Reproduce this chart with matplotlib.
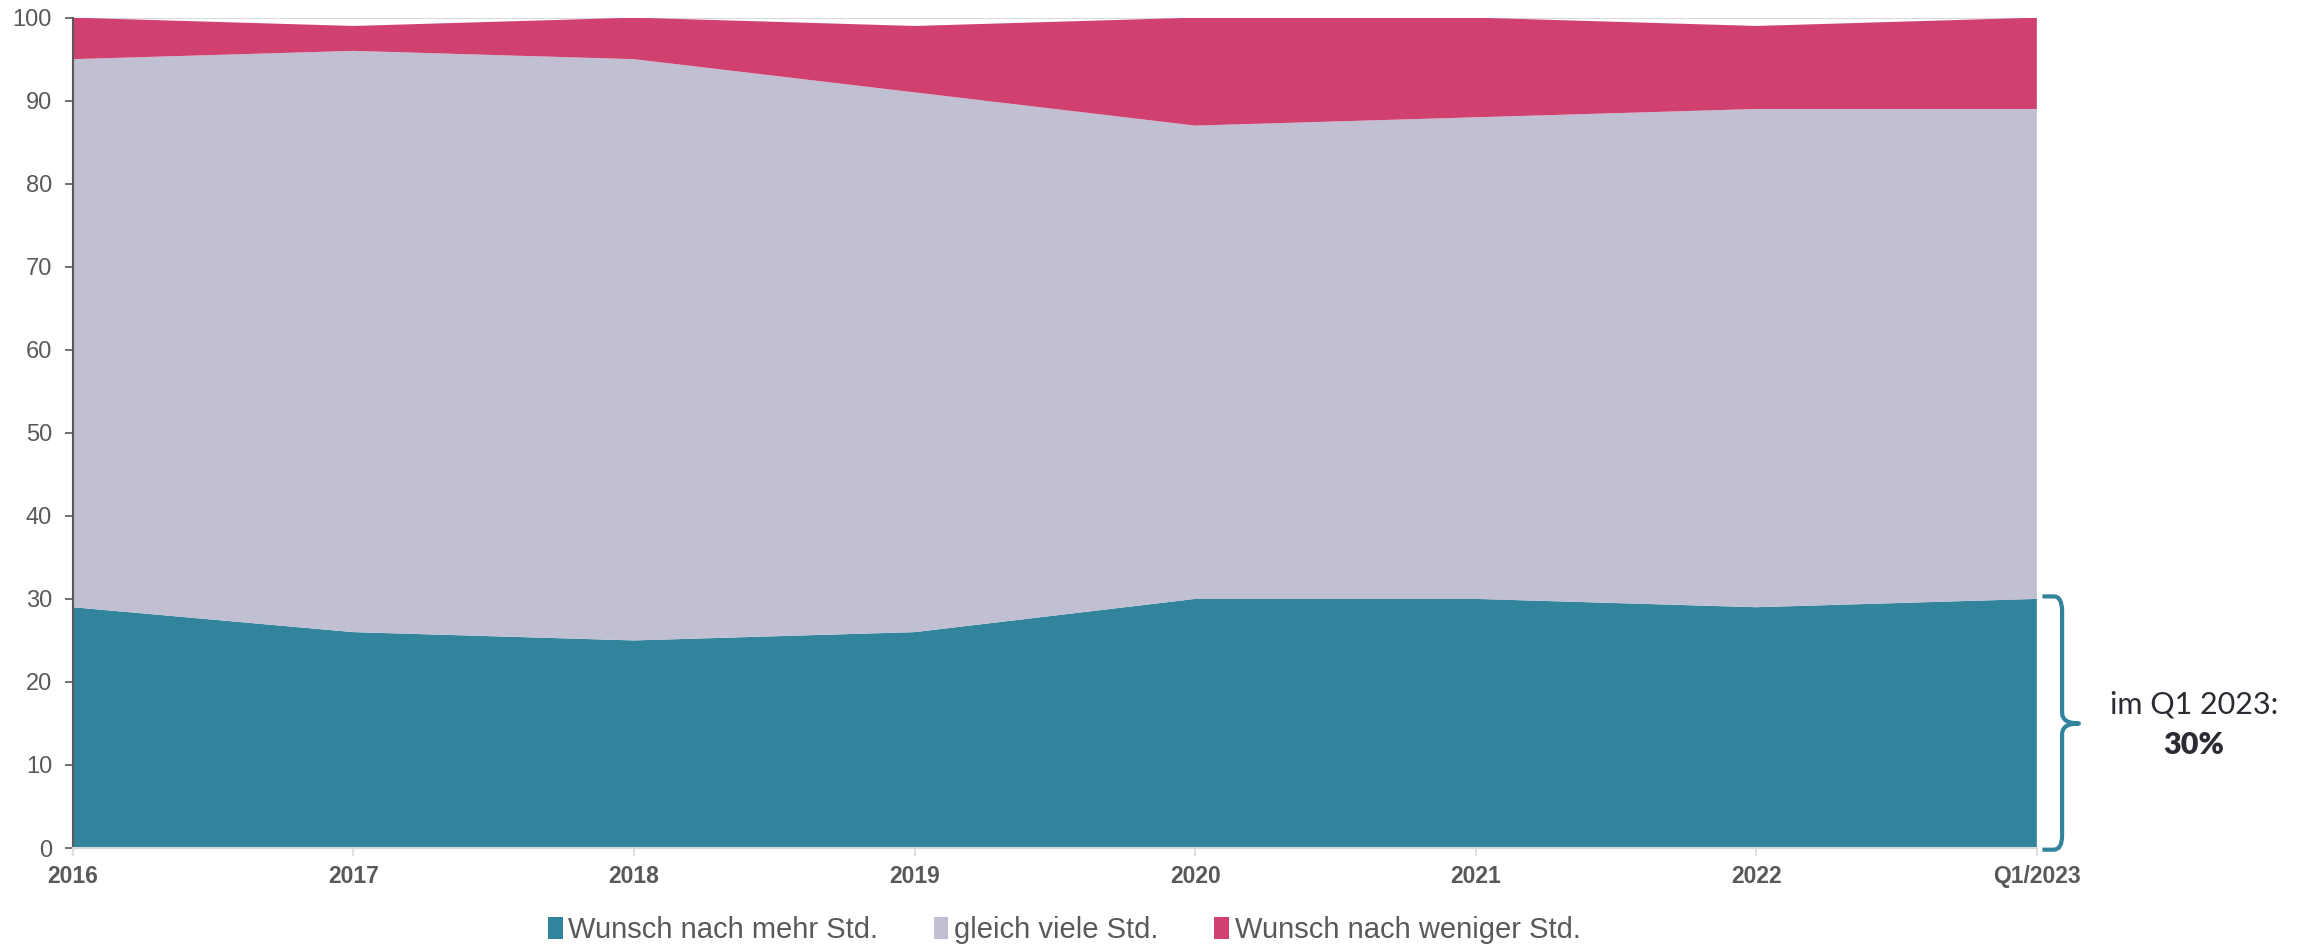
import numpy as np
import matplotlib.pyplot as plt
from matplotlib.path import Path
from matplotlib.patches import PathPatch

# Data (percent of respondents)
years = ["2016", "2017", "2018", "2019", "2020", "2021", "2022", "Q1/2023"]
mehr = [29, 26, 25, 26, 30, 30, 29, 30]
gleich = [66, 70, 70, 65, 57, 58, 60, 59]
weniger = [5, 3, 5, 8, 13, 12, 10, 11]
labels = ["Wunsch nach mehr Std.", "gleich viele Std.", "Wunsch nach weniger Std."]
colors = ["#31849B", "#C1C0D3", "#D04170"]

note_line = "im Q1 2023:"
note_value = "30%"

fig = plt.figure(figsize=(23.01, 9.49), dpi=100)
ax = fig.add_axes([0.0317, 0.1064, 0.8535, 0.875])

x = np.arange(len(years))
ax.stackplot(x, mehr, gleich, weniger, colors=colors, labels=labels, zorder=2)

ax.set_xlim(0, len(years) - 1)
ax.set_ylim(0, 100)
ax.set_yticks(range(0, 101, 10))
ax.set_xticks(x)
ax.set_xticklabels(years, fontweight="bold")

ax.grid(axis="y", color="#d9d9d9", linewidth=1.5, zorder=0)
ax.set_axisbelow(True)

for s in ["top", "right"]:
    ax.spines[s].set_visible(False)
ax.spines["left"].set_color("#595959")
ax.spines["left"].set_linewidth(1.5)
ax.spines["bottom"].set_color("#d9d9d9")
ax.spines["bottom"].set_linewidth(1.5)

ax.tick_params(axis="y", colors="#595959", labelsize=17, length=6, width=1.2, pad=9)
ax.tick_params(axis="x", colors="#d9d9d9", labelcolor="#595959", labelsize=16.5,
               length=6, width=1.2, pad=6)
for t in ax.get_yticklabels() + ax.get_xticklabels():
    t.set_family(["Liberation Sans", "DejaVu Sans"])

# curly brace next to the last value
top = mehr[-1] + 0.3
mid = mehr[-1] / 2
verts = [
    (7.02, top), (7.06, top), (7.09, top), (7.09, top - 1.8),
    (7.09, mid + 1.3), (7.09, mid), (7.15, mid),
    (7.09, mid), (7.09, mid - 1.3),
    (7.09, 1.5), (7.09, -0.2), (7.06, -0.2), (7.02, -0.2),
]
codes = [
    Path.MOVETO, Path.LINETO, Path.CURVE3, Path.CURVE3,
    Path.LINETO, Path.CURVE3, Path.CURVE3,
    Path.CURVE3, Path.CURVE3,
    Path.LINETO, Path.CURVE3, Path.CURVE3, Path.LINETO,
]
brace = PathPatch(Path(verts, codes), facecolor="none", edgecolor=colors[0],
                  linewidth=3, clip_on=False, capstyle="butt", joinstyle="round")
ax.add_patch(brace)

ax.text(7.56, mid + 2.3, note_line, ha="center", va="center", fontsize=22,
        fontweight="normal", color="#2b2b33", family=["Lato", "DejaVu Sans"],
        clip_on=False)
ax.text(7.56, mid - 2.6, note_value, ha="center", va="center", fontsize=22,
        fontweight="heavy", color="#2b2b33", family=["Lato", "DejaVu Sans"],
        clip_on=False)

leg = fig.legend(loc="center", bbox_to_anchor=(0.4625, 0.02), ncol=3, frameon=False,
                 handlelength=0.5, handleheight=0.8, handletextpad=0.2,
                 columnspacing=1.9, labelcolor="#595959",
                 prop={"family": ["Liberation Sans", "DejaVu Sans"], "size": 21})

fig.savefig("out.png", dpi=100)
